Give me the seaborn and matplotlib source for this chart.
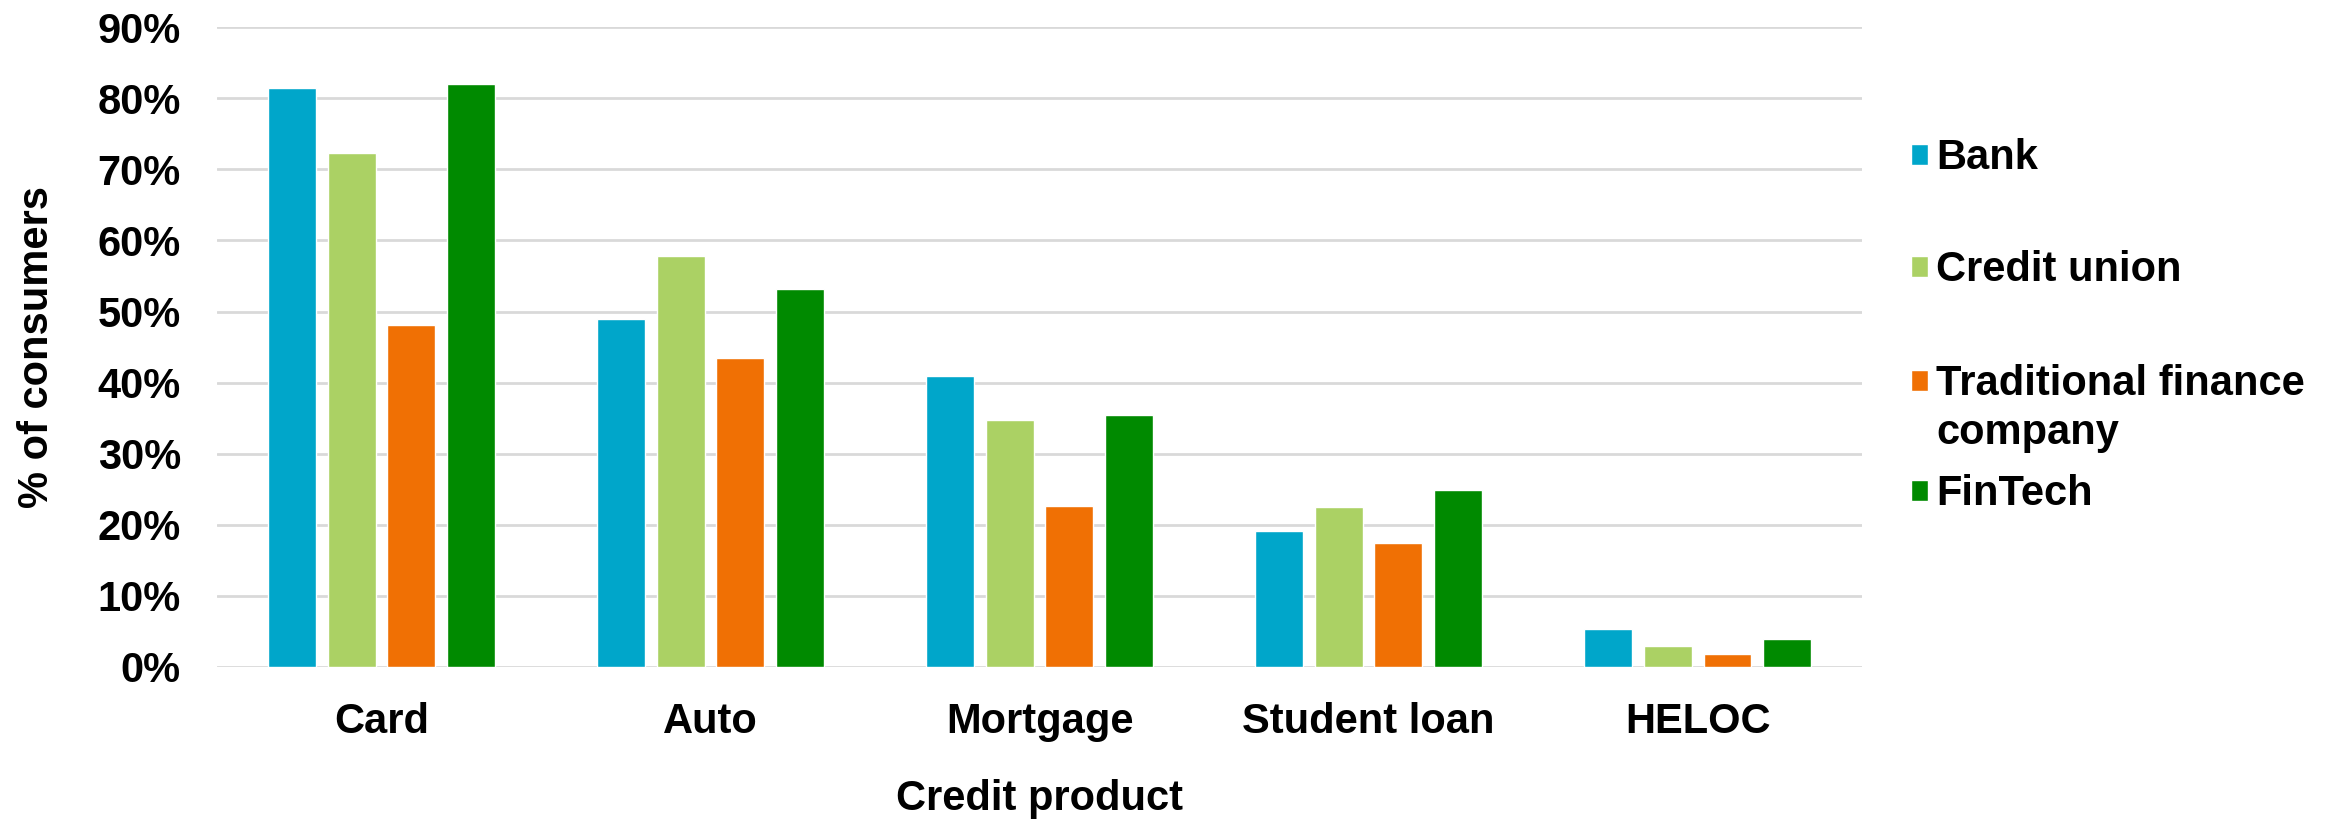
import numpy as np
import pandas as pd
import matplotlib
matplotlib.use("Agg")
import matplotlib.pyplot as plt
from matplotlib.ticker import PercentFormatter
import seaborn as sns

# valores (fração de consumidores)
produtos = ["Card", "Auto", "Mortgage", "Student loan", "HELOC"]
instituicoes = ["Bank", "Credit union", "Traditional finance company", "FinTech"]
bank = [0.814, 0.489, 0.409, 0.191, 0.053]
credit_union = [0.723, 0.578, 0.347, 0.225, 0.029]
trad_finance = [0.481, 0.435, 0.227, 0.175, 0.018]
fintech = [0.820, 0.532, 0.354, 0.249, 0.040]
cores = ["#00A6CA", "#ABD164", "#F07004", "#008A00"]

sns.set_style("white")
plt.rcParams["font.family"] = ["Liberation Sans", "DejaVu Sans"]
plt.rcParams["font.weight"] = "bold"
plt.rcParams["text.color"] = "black"
plt.rcParams["xtick.color"] = "black"
plt.rcParams["ytick.color"] = "black"
plt.rcParams["axes.labelcolor"] = "black"

FS = 30

df = pd.DataFrame({
    "produto": produtos * 4,
    "inst": np.repeat(instituicoes, len(produtos)),
    "valor": bank + credit_union + trad_finance + fintech,
})

fig = plt.figure(figsize=(23.41, 8.23), dpi=100)
ax = fig.add_axes([0.0927, 0.1896, 0.7027, 0.7774])

sns.barplot(
    data=df, x="produto", y="valor", hue="inst",
    order=produtos, hue_order=instituicoes, palette=cores,
    width=0.726, gap=0.2, saturation=1, errorbar=None,
    legend=True, ax=ax,
)

ax.set_ylim(0, 0.9)
ax.set_xlim(-0.5, 4.5)
ax.set_yticks(np.arange(0, 0.91, 0.1))
ax.yaxis.set_major_formatter(PercentFormatter(1, decimals=0))
ax.yaxis.grid(True, color="#D9D9D9", linewidth=2)
ax.set_axisbelow(True)
for s in ax.spines.values():
    s.set_visible(False)
ax.tick_params(axis="both", length=0, labelsize=FS)
ax.tick_params(axis="y", pad=26)
ax.tick_params(axis="x", pad=25)
for lab in ax.get_xticklabels() + ax.get_yticklabels():
    lab.set_fontweight("bold")
ax.set_xlabel("Credit product", fontsize=FS, fontweight="bold", labelpad=27)
ax.set_ylabel("% of consumers", fontsize=FS, fontweight="bold", labelpad=29)

# legenda: uma entrada por vez para reproduzir o espaçamento original
handles, labels = ax.get_legend_handles_labels()
ax.get_legend().remove()
leg_y = [0.8075, 0.6715, 0.5335, 0.3995]
leg_txt = ["Bank", "Credit union", "Traditional finance", "FinTech"]
legs = []
for h, t, y in zip(handles, leg_txt, leg_y):
    lg = fig.legend([h], [t], loc="center left", bbox_to_anchor=(0.8165, y),
                    frameon=False, handlelength=0.4, handleheight=0.4,
                    handletextpad=0.2, borderpad=0, borderaxespad=0,
                    prop={"size": FS, "weight": "bold"})
    legs.append(lg)

fig.canvas.draw()
r = fig.canvas.get_renderer()
bb = legs[2].get_texts()[0].get_window_extent(r).transformed(fig.transFigure.inverted())
fig.text(bb.x0, leg_y[2] - 0.06, "company", fontsize=FS, fontweight="bold",
         ha="left", va="center")

fig.savefig("out.png", dpi=100)
